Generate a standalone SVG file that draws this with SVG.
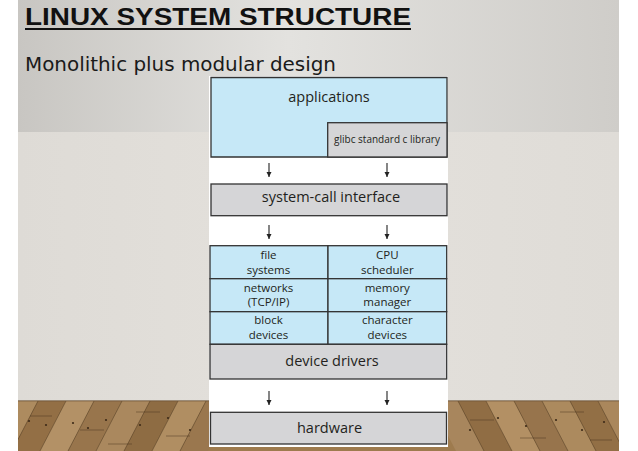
<svg xmlns="http://www.w3.org/2000/svg" width="638" height="451" viewBox="0 0 638 451">
<defs>
<linearGradient id="wallTop" x1="0" y1="0" x2="1" y2="0">
<stop offset="0" stop-color="#c8c6c2"/>
<stop offset="0.45" stop-color="#e3e2df"/>
<stop offset="1" stop-color="#cfcdc9"/>
</linearGradient>
<linearGradient id="wallLow" x1="0" y1="0" x2="1" y2="0">
<stop offset="0" stop-color="#dedbd6"/>
<stop offset="0.5" stop-color="#e4e1dc"/>
<stop offset="1" stop-color="#dfdcd7"/>
</linearGradient>
<clipPath id="floorClip"><rect x="18" y="401" width="601" height="50"/></clipPath>
<marker id="arrow" viewBox="0 0 10 10" refX="10" refY="5" markerWidth="5" markerHeight="6" orient="auto" markerUnits="userSpaceOnUse">
<path d="M0,0 L10,5 L0,10 Z" fill="#222"/>
</marker>
<style>
.blue{fill:#c6e8f7;stroke:#333;stroke-width:1.3}
.gray{fill:#d5d5d7;stroke:#333;stroke-width:1.3}
.lbl{font-family:"Open Sans","DejaVu Sans",sans-serif;fill:#231f20;text-anchor:middle}
.big{font-size:14.5px}
.small{font-size:11.5px}
.tiny{font-size:10px}
.conn line{stroke:#222;stroke-width:1.1;marker-end:url(#arrow)}
.seam{stroke:#4a3520;stroke-width:0.8;fill:none;opacity:0.6}
</style>
</defs>

<!-- background scene -->
<rect x="0" y="0" width="638" height="451" fill="#ffffff"/>
<rect x="18" y="0" width="601" height="132" fill="url(#wallTop)"/>
<rect x="18" y="132" width="601" height="269" fill="url(#wallLow)"/>
<g clip-path="url(#floorClip)">
<rect x="18" y="401" width="601" height="50" fill="#9e7b4e"/>
<path d="M-16,401 L10,401 L-16,451 L-42,451 Z" fill="#8c6a40"/>
<path d="M10,401 L38,401 L12,451 L-16,451 Z" fill="#ad8b5f"/>
<path d="M38,401 L66,401 L40,451 L12,451 Z" fill="#936f45"/>
<path d="M66,401 L94,401 L68,451 L40,451 Z" fill="#b39166"/>
<path d="M94,401 L122,401 L96,451 L68,451 Z" fill="#98754c"/>
<path d="M122,401 L150,401 L124,451 L96,451 Z" fill="#aa885e"/>
<path d="M150,401 L178,401 L152,451 L124,451 Z" fill="#8e6c43"/>
<path d="M178,401 L206,401 L180,451 L152,451 Z" fill="#b08e62"/>
<path d="M206,401 L234,401 L208,451 L180,451 Z" fill="#9a774e"/>
<path d="M430,401 L458,401 L484,451 L456,451 Z" fill="#a8865d"/>
<path d="M458,401 L486,401 L512,451 L484,451 Z" fill="#906d44"/>
<path d="M486,401 L514,401 L540,451 L512,451 Z" fill="#b39064"/>
<path d="M514,401 L542,401 L568,451 L540,451 Z" fill="#97744c"/>
<path d="M542,401 L570,401 L596,451 L568,451 Z" fill="#ac8a5e"/>
<path d="M570,401 L598,401 L624,451 L596,451 Z" fill="#926f45"/>
<path d="M598,401 L626,401 L652,451 L624,451 Z" fill="#aa875c"/>
<path class="seam" d="M10,401 L-16,451 M38,401 L12,451 M66,401 L40,451 M94,401 L68,451 M122,401 L96,451 M150,401 L124,451 M178,401 L152,451 M206,401 L180,451 M458,401 L484,451 M486,401 L512,451 M514,401 L540,451 M542,401 L568,451 M570,401 L596,451 M598,401 L624,451"/>
<path class="seam" d="M30,416 L52,416 M80,430 L104,430 M136,412 L160,412 M108,444 L132,444 M166,436 L190,436 M470,420 L494,420 M520,438 L546,438 M560,412 L584,412 M590,440 L612,440"/>
<g fill="#3e2b18">
<circle cx="29" cy="421" r="1.1"/><circle cx="46" cy="425" r="1.1"/><circle cx="73" cy="423" r="1.1"/><circle cx="88" cy="428" r="1.1"/><circle cx="106" cy="420" r="1.1"/><circle cx="140" cy="425" r="1.1"/><circle cx="168" cy="418" r="1.1"/><circle cx="190" cy="430" r="1.1"/>
<circle cx="470" cy="430" r="1.1"/><circle cx="498" cy="418" r="1.1"/><circle cx="526" cy="426" r="1.1"/><circle cx="556" cy="420" r="1.1"/><circle cx="582" cy="430" r="1.1"/><circle cx="604" cy="422" r="1.1"/>
</g>
</g>
<rect x="18" y="400" width="601" height="1.5" fill="#6b5236" opacity="0.6"/>

<!-- title -->
<text x="25" y="25" font-family="'Liberation Sans',Arial,sans-serif" font-weight="bold" font-size="24" fill="#111" textLength="386" lengthAdjust="spacingAndGlyphs">LINUX SYSTEM STRUCTURE</text>
<rect x="25" y="28" width="386" height="2" fill="#111"/>
<text x="25" y="70.5" font-family="'DejaVu Sans Condensed','DejaVu Sans',sans-serif" font-size="20" fill="#1a1a1a" textLength="311" lengthAdjust="spacingAndGlyphs">Monolithic plus modular design</text>

<!-- diagram panel -->
<rect x="209" y="76" width="239" height="371" fill="#ffffff"/>

<g id="applications">
<path class="blue" d="M211,77.5 H447 V157 H211 Z"/>
<text class="lbl big" x="329" y="102">applications</text>
</g>
<g id="glibc">
<rect class="gray" x="327.7" y="122.7" width="119.3" height="34.3"/>
<text class="lbl tiny" x="387" y="143">glibc standard c library</text>
</g>
<g id="system-call-interface">
<rect class="gray" x="211" y="184" width="236" height="31.7"/>
<text class="lbl big" x="331" y="201.5">system-call interface</text>
</g>
<g id="file-systems">
<rect class="blue" x="210" y="245.7" width="118" height="33"/>
<text class="lbl small" x="268.5" y="258.5">file</text>
<text class="lbl small" x="268.5" y="273.5">systems</text>
</g>
<g id="cpu-scheduler">
<rect class="blue" x="328" y="245.7" width="118.7" height="33"/>
<text class="lbl small" x="387.3" y="258.5">CPU</text>
<text class="lbl small" x="387.3" y="273.5">scheduler</text>
</g>
<g id="networks">
<rect class="blue" x="210" y="278.7" width="118" height="33"/>
<text class="lbl small" x="268.5" y="291.7">networks</text>
<text class="lbl small" x="268.5" y="306">(TCP/IP)</text>
</g>
<g id="memory-manager">
<rect class="blue" x="328" y="278.7" width="118.7" height="33"/>
<text class="lbl small" x="387.3" y="291.7">memory</text>
<text class="lbl small" x="387.3" y="306">manager</text>
</g>
<g id="block-devices">
<rect class="blue" x="210" y="311.7" width="118" height="32.6"/>
<text class="lbl small" x="268.5" y="324.3">block</text>
<text class="lbl small" x="268.5" y="339.3">devices</text>
</g>
<g id="character-devices">
<rect class="blue" x="328" y="311.7" width="118.7" height="32.6"/>
<text class="lbl small" x="387.3" y="324.3">character</text>
<text class="lbl small" x="387.3" y="339.3">devices</text>
</g>
<g id="device-drivers">
<rect class="gray" x="210" y="344.3" width="236.7" height="34.7"/>
<text class="lbl big" x="332" y="366">device drivers</text>
</g>
<g id="hardware">
<rect class="gray" x="210.5" y="412.3" width="236" height="31.7"/>
<text class="lbl big" x="329.5" y="433">hardware</text>
</g>

<g id="connectors" class="conn">
<line x1="269" y1="163" x2="269" y2="177"/>
<line x1="387" y1="163" x2="387" y2="177"/>
<line x1="269" y1="225" x2="269" y2="239"/>
<line x1="387" y1="225" x2="387" y2="239"/>
<line x1="269" y1="391" x2="269" y2="405"/>
<line x1="387" y1="391" x2="387" y2="405"/>
</g>
</svg>
